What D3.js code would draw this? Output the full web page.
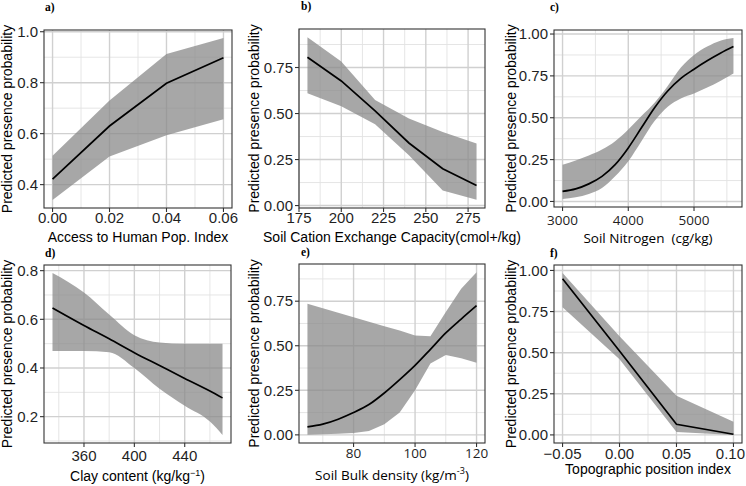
<!DOCTYPE html>
<html>
<head>
<meta charset="utf-8">
<script src="https://cdn.jsdelivr.net/npm/d3@7"></script>
<style>
  body { margin: 0; background: #fff; }
  svg { display: block; }
  .tick-label { font-family: "Liberation Sans", Arial, sans-serif; font-size: 15px; fill: #1f1f1f; }
  .axis-title { font-family: "Liberation Sans", Arial, sans-serif; font-size: 14px; fill: #000; }
  .humanist { font-family: "Open Sans", "Noto Sans", sans-serif; font-size: 13.5px; }
  .panel-label { font-family: "Liberation Serif", "DejaVu Serif", serif; font-weight: bold; font-size: 11.5px; fill: #000; }
</style>
</head>
<body>
<svg id="chart" width="746" height="486"></svg>
<script>
// ---- data ----
const panelLabels = ['a)', 'b)', 'c)', 'd)', 'e)', 'f)'];
const yTitle = 'Predicted presence probability';

// a) access to human population index
const accessX = [0, 0.02, 0.04, 0.06];
const accessFit = [0.422, 0.630, 0.798, 0.898];
const accessLower = [0.340, 0.510, 0.594, 0.657];
const accessUpper = [0.513, 0.730, 0.913, 0.975];

// b) soil cation exchange capacity
const cecX = [180, 200, 220, 240, 260, 280];
const cecFit = [0.806, 0.677, 0.515, 0.340, 0.200, 0.109];
const cecLower = [0.610, 0.540, 0.442, 0.273, 0.082, 0.031];
const cecUpper = [0.915, 0.783, 0.573, 0.473, 0.400, 0.337];

// c) soil nitrogen
const nitroX = [3000, 3200, 3400, 3600, 3800, 4000, 4200, 4400, 4600, 4800, 5000, 5200, 5400, 5600];
const nitroFit = [0.060, 0.075, 0.105, 0.150, 0.220, 0.320, 0.440, 0.560, 0.660, 0.735, 0.790, 0.840, 0.885, 0.925];
const nitroLower = [0.015, 0.025, 0.045, 0.080, 0.150, 0.240, 0.360, 0.480, 0.565, 0.615, 0.645, 0.680, 0.720, 0.765];
const nitroUpper = [0.220, 0.245, 0.275, 0.310, 0.360, 0.430, 0.510, 0.590, 0.690, 0.800, 0.875, 0.925, 0.960, 0.976];

// d) clay content
const clayX = [335, 360, 380, 400, 420, 440, 460, 470];
const clayFit = [0.647, 0.575, 0.520, 0.463, 0.410, 0.357, 0.305, 0.277];
const clayLower = [0.470, 0.470, 0.465, 0.400, 0.315, 0.245, 0.180, 0.125];
const clayUpper = [0.790, 0.710, 0.620, 0.535, 0.505, 0.500, 0.500, 0.500];

// e) soil bulk density
const bulkX = [65, 70, 75, 80, 85, 90, 95, 100, 105, 110, 115, 120];
const bulkFit = [0.045, 0.060, 0.088, 0.125, 0.170, 0.235, 0.310, 0.390, 0.480, 0.572, 0.650, 0.725];
const bulkLower = [0.000, 0.003, 0.006, 0.010, 0.022, 0.060, 0.126, 0.250, 0.400, 0.448, 0.430, 0.405];
const bulkUpper = [0.735, 0.710, 0.685, 0.660, 0.635, 0.610, 0.585, 0.557, 0.553, 0.690, 0.820, 0.913];

// f) topographic position index
const tpiX = [-0.05, 0, 0.05, 0.10];
const tpiFit = [0.950, 0.510, 0.065, 0.004];
const tpiLower = [0.776, 0.460, 0.018, 0.000];
const tpiUpper = [0.984, 0.600, 0.238, 0.080];

// tick values
const accessXTicks = [0, 0.02, 0.04, 0.06];
const cecXTicks = [175, 200, 225, 250, 275];
const nitroXTicks = [3000, 4000, 5000];
const clayXTicks = [360, 400, 440];
const bulkXTicks = [80, 100, 120];
const tpiXTicks = [-0.05, 0, 0.05, 0.10];
const probTicksA = [0.4, 0.6, 0.8, 1.0];
const probTicksQuarter = [0, 0.25, 0.5, 0.75];
const probTicksFull = [0, 0.25, 0.5, 0.75, 1.0];
const probTicksD = [0.2, 0.4, 0.6, 0.8];

// ---- layout ----
const W = 746;
const panels = [
  { x: accessX, fit: accessFit, lo: accessLower, hi: accessUpper, xTicks: accessXTicks, yTicks: probTicksA,
    xFmt: d3.format('.2f'), yFmt: d3.format('.1f'), curve: d3.curveLinear, ribbonCurve: d3.curveLinear,
    box: { left: 44, top: 30, right: 232, bottom: 208 }, yTitleX: 12, xTickY: 223, xTitleY: 242,
    xTitle: [{ t: 'Access to Human Pop. Index' }] },
  { x: cecX, fit: cecFit, lo: cecLower, hi: cecUpper, xTicks: cecXTicks, yTicks: probTicksQuarter,
    xFmt: d3.format('d'), yFmt: d3.format('.2f'), curve: d3.curveLinear, ribbonCurve: d3.curveLinear,
    box: { left: 299, top: 29, right: 485, bottom: 208 }, yTitleX: 259, xTickY: 223, xTitleY: 242,
    xTitle: [{ t: 'Soil Cation Exchange Capacity(cmol+/kg)' }] },
  { x: nitroX, fit: nitroFit, lo: nitroLower, hi: nitroUpper, xTicks: nitroXTicks, yTicks: probTicksFull,
    xFmt: d3.format('d'), yFmt: d3.format('.2f'), curve: d3.curveMonotoneX, ribbonCurve: d3.curveMonotoneX,
    box: { left: 554, top: 30, right: 742, bottom: 207 }, yTitleX: 516, xTickY: 225, xTitleY: 243,
    humanist: true, xTitle: [{ t: 'Soil Nitrogen\u00a0 (cg/kg)' }] },
  { x: clayX, fit: clayFit, lo: clayLower, hi: clayUpper, xTicks: clayXTicks, yTicks: probTicksD,
    xFmt: d3.format('d'), yFmt: d3.format('.1f'), curve: d3.curveMonotoneX, ribbonCurve: d3.curveMonotoneX,
    box: { left: 44, top: 265, right: 231, bottom: 443 }, yTitleX: 12, xTickY: 461, xTitleY: 481,
    xTitle: [{ t: 'Clay content (kg/kg' }, { t: '\u22121', sup: true }, { t: ')' }] },
  { x: bulkX, fit: bulkFit, lo: bulkLower, hi: bulkUpper, xTicks: bulkXTicks, yTicks: probTicksQuarter,
    xFmt: d3.format('d'), yFmt: d3.format('.2f'), curve: d3.curveMonotoneX, ribbonCurve: d3.curveLinear,
    box: { left: 299, top: 264, right: 485, bottom: 443 }, yTitleX: 259, xTickY: 458, xTitleY: 480,
    humanist: true, xTitle: [{ t: 'Soil Bulk density (kg/m' }, { t: '-3', sup: true }, { t: ')' }] },
  { x: tpiX, fit: tpiFit, lo: tpiLower, hi: tpiUpper, xTicks: tpiXTicks, yTicks: probTicksFull,
    xFmt: d3.format('.2f'), yFmt: d3.format('.2f'), curve: d3.curveLinear, ribbonCurve: d3.curveLinear,
    box: { left: 554, top: 265, right: 742, bottom: 443 }, yTitleX: 516, xTickY: 459, xTitleY: 474,
    xTitle: [{ t: 'Topographic position index' }] }
];

const svg = d3.select('#chart');

// ggplot style 5% expansion
function expand(lo, hi) {
  const pad = (hi - lo) * 0.05;
  return [lo - pad, hi + pad];
}

// minor breaks halfway between majors, kept inside the domain
function minorTicks(ticks, domain) {
  const step = ticks[1] - ticks[0];
  const out = [];
  for (let i = -1; i < ticks.length; i++) {
    const m = ticks[0] + (i + 0.5) * step;
    if (m > domain[0] && m < domain[1]) out.push(m);
  }
  return out;
}

panels.forEach((p, i) => {
  const b = p.box;
  const xDomain = expand(d3.min(p.x), d3.max(p.x));
  const yDomain = expand(d3.min(p.lo), d3.max(p.hi));
  const x = d3.scaleLinear().domain(xDomain).range([b.left, b.right]);
  const y = d3.scaleLinear().domain(yDomain).range([b.bottom, b.top]);

  const g = svg.append('g');

  g.append('rect')
    .attr('x', b.left).attr('y', b.top)
    .attr('width', b.right - b.left).attr('height', b.bottom - b.top)
    .attr('fill', '#fff');

  // grid
  const grid = g.append('g');
  minorTicks(p.xTicks, xDomain).forEach((v) => {
    grid.append('line').attr('x1', x(v)).attr('x2', x(v)).attr('y1', b.top).attr('y2', b.bottom)
      .attr('stroke', '#e2e2e2').attr('stroke-width', 0.9);
  });
  minorTicks(p.yTicks, yDomain).forEach((v) => {
    grid.append('line').attr('x1', b.left).attr('x2', b.right).attr('y1', y(v)).attr('y2', y(v))
      .attr('stroke', '#e2e2e2').attr('stroke-width', 0.9);
  });
  p.xTicks.forEach((v) => {
    grid.append('line').attr('x1', x(v)).attr('x2', x(v)).attr('y1', b.top).attr('y2', b.bottom)
      .attr('stroke', '#d0d0d0').attr('stroke-width', 1.4);
  });
  p.yTicks.forEach((v) => {
    grid.append('line').attr('x1', b.left).attr('x2', b.right).attr('y1', y(v)).attr('y2', y(v))
      .attr('stroke', '#d0d0d0').attr('stroke-width', 1.4);
  });

  // confidence ribbon + fitted line
  const rows = p.x.map((v, k) => ({ x: v, fit: p.fit[k], lo: p.lo[k], hi: p.hi[k] }));
  const area = d3.area().curve(p.ribbonCurve)
    .x((d) => x(d.x)).y0((d) => y(d.lo)).y1((d) => y(d.hi));
  const line = d3.line().curve(p.curve)
    .x((d) => x(d.x)).y((d) => y(d.fit));

  g.append('path').attr('d', area(rows))
    .attr('fill', '#8a8a8a').attr('fill-opacity', 0.75);
  g.append('path').attr('d', line(rows))
    .attr('fill', 'none').attr('stroke', '#000').attr('stroke-width', 1.7);

  // border
  g.append('rect')
    .attr('x', b.left).attr('y', b.top)
    .attr('width', b.right - b.left).attr('height', b.bottom - b.top)
    .attr('fill', 'none').attr('stroke', '#333').attr('stroke-width', 1.1);

  // ticks and labels
  p.xTicks.forEach((v) => {
    g.append('line').attr('x1', x(v)).attr('x2', x(v)).attr('y1', b.bottom).attr('y2', b.bottom + 4)
      .attr('stroke', '#333').attr('stroke-width', 1.1);
    const lbl = g.append('text').attr('class', 'tick-label' + (p.humanist ? ' humanist' : ''))
      .attr('x', x(v)).attr('y', p.xTickY).attr('text-anchor', 'middle')
      .text(p.xFmt(v));
    // keep labels inside the page edge
    const bb = lbl.node().getBBox();
    if (bb.x + bb.width > W - 1) {
      lbl.attr('text-anchor', 'end').attr('x', W - 1);
    }
  });
  p.yTicks.forEach((v) => {
    g.append('line').attr('x1', b.left - 4).attr('x2', b.left).attr('y1', y(v)).attr('y2', y(v))
      .attr('stroke', '#333').attr('stroke-width', 1.1);
    g.append('text').attr('class', 'tick-label')
      .attr('x', b.left - 6).attr('y', y(v)).attr('dy', '0.35em').attr('text-anchor', 'end')
      .text(p.yFmt(v));
  });

  // axis titles
  const xt = g.append('text').attr('class', 'axis-title' + (p.humanist ? ' humanist' : ''))
    .attr('x', (b.left + b.right) / 2).attr('y', p.xTitleY).attr('text-anchor', 'middle');
  p.xTitle.forEach((part) => {
    const ts = xt.append('tspan').text(part.t);
    if (part.sup) ts.attr('baseline-shift', 'super').attr('font-size', '9px');
  });

  g.append('text').attr('class', 'axis-title')
    .attr('transform', `translate(${p.yTitleX},${(b.top + b.bottom) / 2}) rotate(-90)`)
    .attr('text-anchor', 'middle')
    .text(yTitle);

  g.append('text').attr('class', 'panel-label')
    .attr('x', b.left + (i % 3 === 0 ? 1 : (i % 3 === 1 ? 2 : -4)))
    .attr('y', b.top - (i < 3 ? 19 : 8))
    .text(panelLabels[i]);
});
</script>
</body>
</html>
